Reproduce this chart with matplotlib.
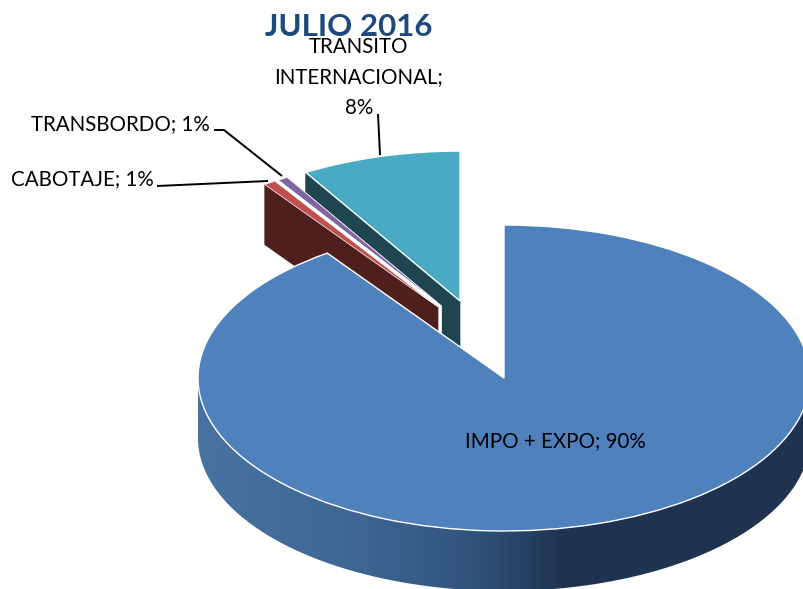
#!/usr/bin/env python3
"""JULIO 2016 - 3D looking exploded pie, drawn on a squashed pie axes"""

import numpy as np
import matplotlib
matplotlib.use("Agg")
import matplotlib.pyplot as plt
from matplotlib.colors import LinearSegmentedColormap
from matplotlib.patches import Polygon

plt.rcParams["font.family"] = ["Lato", "DejaVu Sans"]

# shares (the labels show them rounded)
CATEGORIES = ["IMPO + EXPO", "CABOTAJE", "TRANSBORDO", "TRANSITO INTERNACIONAL"]
SHARES = [90.2, 0.65, 0.55, 8.6]
PCT_LABELS = ["90%", "1%", "1%", "8%"]
COLORS = ["#4f81bd", "#c0504d", "#8064a2", "#4aa9c3"]

W, H = 804, 589
CX, CY = 504, 378      # centre of main slice, px
RX, RY = 306, 153      # ellipse radii, px
DEPTH = 60 / RY        # extrusion, axes units
RED_WALL = "#4e1f1d"
TEAL_WALL = "#1f4650"


def px(x, y):
    """image pixels -> data coords"""
    return (x - CX) / RX, (CY - y) / RY


fig = plt.figure(figsize=(W / 100, H / 100), dpi=100)
ax = fig.add_axes([0, 0, 1, 1])

wedges, _ = ax.pie(SHARES, colors=COLORS, startangle=90, counterclock=False,
                   wedgeprops=dict(edgecolor="white", linewidth=1.0))
main, cabotaje, transbordo, transito = wedges

# exploded slices sit further back so they are a little smaller
for w, apex in ((cabotaje, (438, 307)), (transbordo, (441.5, 306)), (transito, (460, 301))):
    w.set_center(px(*apex))
    w.set_radius(0.98)
cabotaje.set_linewidth(0.5)
transbordo.set_linewidth(0.5)


def rim(w, theta):
    t = np.radians(theta)
    return w.center[0] + w.r * np.cos(t), w.center[1] + w.r * np.sin(t)


def wall(w, theta, color, z):
    """flat cut side of a slice, from the rim at theta to the apex and down"""
    x0, y0 = rim(w, theta)
    x1, y1 = w.center
    pts = [(x0, y0), (x1, y1), (x1, y1 - DEPTH), (x0, y0 - DEPTH)]
    ax.add_patch(Polygon(pts, closed=True, facecolor=color, edgecolor=color,
                         lw=0.5, zorder=z))


# back to front
wall(transito, transito.theta2, TEAL_WALL, 1)
transito.set_zorder(2)
wall(transbordo, transbordo.theta1, "white", 3)   # hides the teal side behind it
wall(cabotaje, cabotaje.theta2, RED_WALL, 4)
transbordo.set_zorder(5)
cabotaje.set_zorder(5)

# outer wall of the big slice, horizontal gradient
t = np.radians(np.linspace(180, 360, 200))
top = np.column_stack([np.cos(t), np.sin(t)])
bottom = top[::-1] - [0, DEPTH]
side = Polygon(np.vstack([top, bottom]), closed=True, facecolor="none",
               edgecolor="none", transform=ax.transData)
ax.add_patch(side)
cmap = LinearSegmentedColormap.from_list(
    "side", [(0, "#48729f"), (0.25, "#3f6795"), (0.45, "#30537c"),
             (0.6, "#1f3350"), (1, "#1f3350")])
img = ax.imshow(np.linspace(0, 1, 256)[None, :], cmap=cmap, aspect="auto",
                extent=(-1, 1, -1 - DEPTH, 0), zorder=6)
img.set_clip_path(side)
main.set_zorder(7)

ax.set_aspect("auto")
ax.set_xlim(px(0, 0)[0], px(W, 0)[0])
ax.set_ylim(px(0, H)[1], px(0, 0)[1])
ax.axis("off")

# leader lines
for pts in ([(214, 130), (224, 130), (282, 176)],
            [(157, 186), (268, 181)],
            [(378, 114), (380, 155)]):
    xy = np.array([px(*p) for p in pts])
    ax.plot(xy[:, 0], xy[:, 1], color="black", lw=1.4, zorder=8, solid_capstyle="butt")


def label(x, y, s, **kw):
    dx, dy = px(x, y)
    ax.text(dx, dy, s, ha="center", va="center", zorder=9, **kw)


FS = 14.8
label(555, 441, f"{CATEGORIES[0]}; {PCT_LABELS[0]}", fontsize=FS, color="black")
label(82, 179, f"{CATEGORIES[1]}; {PCT_LABELS[1]}", fontsize=FS, color="black")
label(120, 124, f"{CATEGORIES[2]}; {PCT_LABELS[2]}", fontsize=FS, color="black")
first, second = CATEGORIES[3].split(" ")
label(359, 47, first, fontsize=FS, color="black")
label(359, 77, second + ";", fontsize=FS, color="black")
label(359, 108, PCT_LABELS[3], fontsize=FS, color="black")
label(349, 27, "JULIO 2016", fontsize=22.5, fontweight="bold", color="#1f497d")

fig.savefig("out.png", dpi=100, facecolor="white")
